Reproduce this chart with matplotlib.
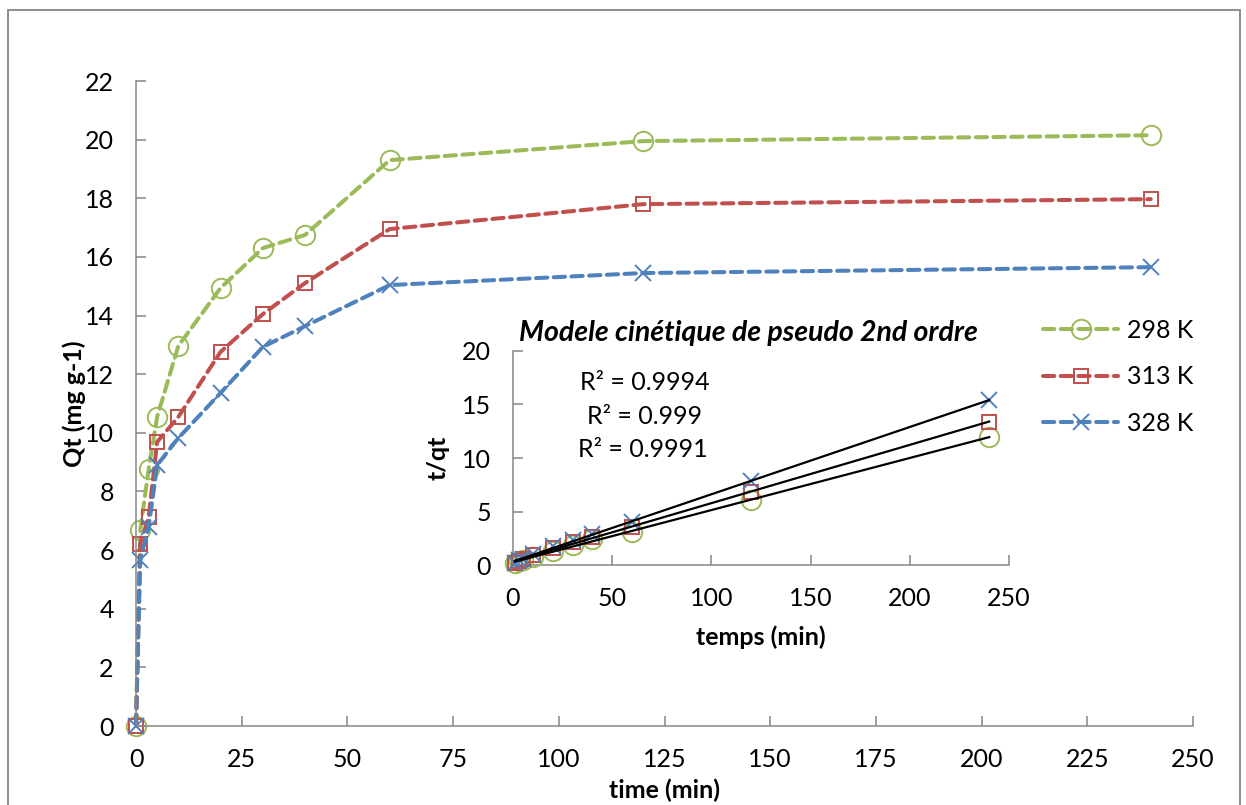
import numpy as np
import matplotlib
matplotlib.use("Agg")
import matplotlib.pyplot as plt
from matplotlib.patches import Rectangle

# main kinetics data
time_min = [0, 1, 3, 5, 10, 20, 30, 40, 60, 120, 240]
qt_298 = [0, 6.68, 8.77, 10.54, 12.96, 14.94, 16.30, 16.75, 19.30, 19.95, 20.15]
qt_313 = [0, 6.21, 7.13, 9.69, 10.54, 12.76, 14.05, 15.11, 16.95, 17.80, 17.97]
qt_328 = [0, 5.66, 6.79, 8.90, 9.82, 11.36, 12.93, 13.64, 15.04, 15.45, 15.65]
labels = ["298 K", "313 K", "328 K"]

# inset: pseudo second order plot
t_inset = [1, 3, 5, 10, 20, 30, 40, 60, 120, 240]
tq_298 = [0.15, 0.34, 0.48, 0.77, 1.34, 1.84, 2.39, 3.10, 6.05, 11.95]
tq_313 = [0.16, 0.42, 0.52, 0.95, 1.57, 2.13, 2.65, 3.55, 6.80, 13.40]
tq_328 = [0.18, 0.44, 0.56, 1.02, 1.76, 2.33, 2.93, 4.00, 7.85, 15.40]
r2_text = ["R² = 0.9994", "R² = 0.999", "R² = 0.9991"]

colors = ["#9BBB59", "#C0504D", "#4F81BD"]
markers = ["o", "s", "x"]
msizes = [14, 10, 11]
gray = "#868686"
FS = 18

plt.rcParams["font.family"] = ["Lato", "DejaVu Sans"]

W, H = 1246, 805
fig = plt.figure(figsize=(W / 100, H / 100), dpi=100)


def px_rect(l, t, r, b):
    return [l / W, 1 - b / H, (r - l) / W, (b - t) / H]


fig.add_artist(Rectangle((8 / W, -0.05), (1240 - 8) / W, 1.05 - 10 / H,
                         transform=fig.transFigure, fill=False,
                         edgecolor=gray, linewidth=1.3))

ax = fig.add_axes(px_rect(136, 81, 1193, 726))
handles = []
for q, c, m, ms, lab in zip([qt_298, qt_313, qt_328], colors, markers, msizes, labels):
    ln, = ax.plot(time_min, q, color=c, linewidth=2.9, linestyle=(0, (2.8, 1.6)),
                  dash_capstyle="round", marker=m, markersize=ms,
                  markerfacecolor="none", markeredgecolor=c,
                  markeredgewidth=1.4, label=lab, clip_on=False)
    handles.append(ln)

ax.set_xlim(0, 250)
ax.set_ylim(0, 22)
ax.set_xticks(np.arange(0, 251, 25))
ax.set_yticks(np.arange(0, 23, 2))
for s in ["top", "right"]:
    ax.spines[s].set_visible(False)
for s in ["left", "bottom"]:
    ax.spines[s].set_color(gray)
    ax.spines[s].set_linewidth(1.1)
ax.tick_params(direction="in", length=7, width=1.1, color=gray,
               labelsize=FS, pad=16)
ax.text(0.5, -0.1, "time (min)", transform=ax.transAxes, ha="center",
        va="center", fontsize=FS, fontweight="bold")
ax.text(-0.058, 0.5, "Qt (mg g-1)", transform=ax.transAxes, ha="center",
        va="center", rotation=90, fontsize=FS, fontweight="bold")

fig.legend(handles=handles, loc="center left",
           bbox_to_anchor=(1043 / W, 1 - 377 / H), frameon=False,
           fontsize=FS, handlelength=3.0, handletextpad=0.35,
           labelspacing=0.95, borderpad=0, borderaxespad=0)

# inset
ax_in = fig.add_axes(px_rect(513, 351, 1009, 565))
ax_in.set_facecolor("none")
for tq, c, m, ms in zip([tq_298, tq_313, tq_328], colors, markers, msizes):
    ax_in.plot(t_inset, tq, linestyle="none", marker=m, markersize=ms,
               markerfacecolor="none", markeredgecolor=c,
               markeredgewidth=1.4, clip_on=False, zorder=3)
for tq in [tq_298, tq_313, tq_328]:
    k, b = np.polyfit(t_inset, tq, 1)
    xs = np.array([min(t_inset), max(t_inset)])
    ax_in.plot(xs, k * xs + b, color="black", linewidth=1.6, zorder=4,
               clip_on=False)

ax_in.set_xlim(0, 250)
ax_in.set_ylim(0, 20)
ax_in.set_xticks(np.arange(0, 251, 50))
ax_in.set_yticks(np.arange(0, 21, 5))
for s in ["top", "right"]:
    ax_in.spines[s].set_visible(False)
for s in ["left", "bottom"]:
    ax_in.spines[s].set_color(gray)
    ax_in.spines[s].set_linewidth(1.1)
ax_in.tick_params(direction="in", length=7, width=1.1, color=gray,
                  labelsize=FS, pad=16)
ax_in.text(0.5, -0.336, "temps (min)", transform=ax_in.transAxes,
           ha="center", va="center", fontsize=FS, fontweight="bold")
ax_in.text(-0.15, 0.5, "t/qt", transform=ax_in.transAxes, ha="center",
           va="center", rotation=90, fontsize=FS, fontweight="bold")
ax_in.text(0.474, 1.084, "Modele cinétique de pseudo 2nd ordre",
           transform=ax_in.transAxes, ha="center", va="center",
           fontsize=20.5, fontweight="bold", fontstyle="italic")
for txt, (x, y) in zip(r2_text, [(0.266, 0.852), (0.266, 0.694), (0.262, 0.538)]):
    ax_in.text(x, y, txt, transform=ax_in.transAxes, ha="center",
               va="center", fontsize=FS)

fig.savefig("out.png", dpi=100, facecolor="white")
